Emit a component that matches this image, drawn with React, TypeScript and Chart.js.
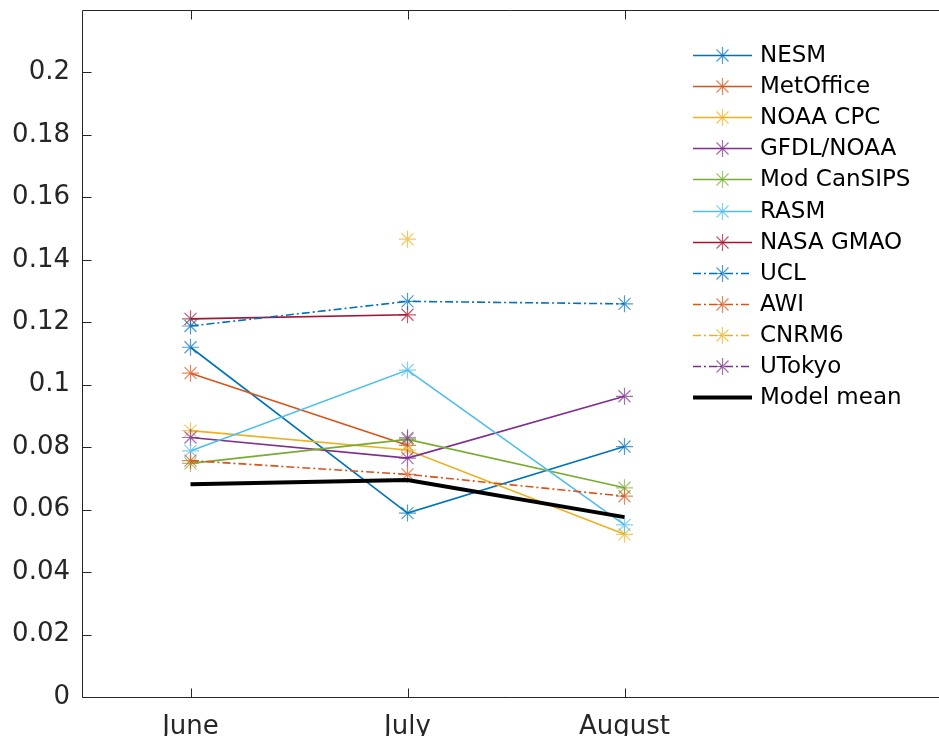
import React, { useEffect, useRef } from "react";
import { Chart, registerables } from "chart.js";

Chart.register(...registerables);

const MONTHS = ["June", "July", "August"];
const MONTH_POS = [1, 2, 3];
const Y_TICKS = [0, 0.02, 0.04, 0.06, 0.08, 0.1, 0.12, 0.14, 0.16, 0.18, 0.2];

const NESM = [0.112, 0.0589, 0.0802];
const METOFFICE = [0.1037, 0.0806, null];
const NOAA_CPC = [0.0853, 0.0791, 0.0521];
const GFDL_NOAA = [0.0831, 0.0765, 0.0963];
const MOD_CANSIPS = [0.0748, 0.0825, 0.067];
const RASM = [0.0788, 0.1047, 0.0551];
const NASA_GMAO = [0.1211, 0.1224, null];
const UCL = [0.1188, 0.1267, 0.1259];
const AWI = [0.0757, 0.0713, 0.0643];
const CNRM6 = [null, 0.1466, null];
const UTOKYO = [null, 0.083, null];
const MODEL_MEAN = [0.0681, 0.0695, 0.0576];

const SERIES = [
  { label: "NESM", values: NESM, color: "#0072BD", dash: false },
  { label: "MetOffice", values: METOFFICE, color: "#D95319", dash: false },
  { label: "NOAA CPC", values: NOAA_CPC, color: "#EDB120", dash: false },
  { label: "GFDL/NOAA", values: GFDL_NOAA, color: "#7E2F8E", dash: false },
  { label: "Mod CanSIPS", values: MOD_CANSIPS, color: "#77AC30", dash: false },
  { label: "RASM", values: RASM, color: "#4DBEEE", dash: false },
  { label: "NASA GMAO", values: NASA_GMAO, color: "#A2142F", dash: false },
  { label: "UCL", values: UCL, color: "#0072BD", dash: true },
  { label: "AWI", values: AWI, color: "#D95319", dash: true },
  { label: "CNRM6", values: CNRM6, color: "#EDB120", dash: true },
  { label: "UTokyo", values: UTOKYO, color: "#7E2F8E", dash: true },
];

const DASH_DOT = [8, 3, 2, 3];
const AXIS_COLOR = "#262626";
const FONT = "'DejaVu Sans', sans-serif";

function hexA(hex: string, a: number) {
  const r = parseInt(hex.slice(1, 3), 16);
  const g = parseInt(hex.slice(3, 5), 16);
  const b = parseInt(hex.slice(5, 7), 16);
  return `rgba(${r},${g},${b},${a})`;
}

function drawStar(ctx: CanvasRenderingContext2D, x: number, y: number, r: number) {
  ctx.beginPath();
  for (let k = 0; k < 4; k++) {
    const ang = (k * Math.PI) / 4;
    const dx = Math.cos(ang) * r;
    const dy = Math.sin(ang) * r;
    ctx.moveTo(x - dx, y - dy);
    ctx.lineTo(x + dx, y + dy);
  }
  ctx.stroke();
}

const matlabPlugin = {
  id: "matlabBox",
  afterDraw(chart: any) {
    const { ctx, chartArea: a, scales } = chart;
    const xs = scales.x;
    const ys = scales.y;
    ctx.save();
    ctx.strokeStyle = AXIS_COLOR;
    ctx.lineWidth = 1;
    const L = Math.round(a.left) + 0.5;
    const T = Math.round(a.top) + 0.5;
    const B = Math.round(a.bottom) + 0.5;
    const R = chart.width;
    ctx.beginPath();
    ctx.moveTo(L, T);
    ctx.lineTo(R, T);
    ctx.moveTo(L, B);
    ctx.lineTo(R, B);
    ctx.moveTo(L, T);
    ctx.lineTo(L, B);
    ctx.stroke();
    ctx.beginPath();
    Y_TICKS.forEach((v) => {
      const py = Math.round(ys.getPixelForValue(v)) + 0.5;
      ctx.moveTo(L, py);
      ctx.lineTo(L + 9, py);
    });
    MONTH_POS.forEach((v) => {
      const px = Math.round(xs.getPixelForValue(v)) + 0.5;
      ctx.moveTo(px, B);
      ctx.lineTo(px, B - 9);
      ctx.moveTo(px, T);
      ctx.lineTo(px, T + 9);
    });
    ctx.stroke();

    // legend
    const x0 = 693;
    const x1 = 752;
    const xm = 722.5;
    const xt = 760;
    const y0 = 55;
    const dy = 31.1;
    ctx.font = `23px ${FONT}`;
    ctx.textBaseline = "middle";
    ctx.textAlign = "left";
    chart.data.datasets.forEach((ds: any, i: number) => {
      const y = Math.round(y0 + dy * i) + 0.5;
      ctx.save();
      ctx.strokeStyle = ds.borderColor;
      ctx.lineWidth = ds.borderWidth;
      ctx.setLineDash(ds.borderDash || []);
      ctx.beginPath();
      ctx.moveTo(x0, y);
      ctx.lineTo(x1, y);
      ctx.stroke();
      ctx.setLineDash([]);
      if (ds.pointRadius > 0) {
        ctx.strokeStyle = ds.pointBorderColor;
        ctx.lineWidth = ds.pointBorderWidth;
        drawStar(ctx, xm, y, ds.pointRadius);
      }
      ctx.restore();
      ctx.fillStyle = "#000";
      ctx.fillText(ds.label, xt, y + 1);
    });
    ctx.restore();
  },
};

function toPoints(values: (number | null)[]) {
  const pts: { x: number; y: number }[] = [];
  values.forEach((v, i) => {
    if (v !== null) pts.push({ x: MONTH_POS[i], y: v });
  });
  return pts;
}

export default function App() {
  const ref = useRef<HTMLCanvasElement>(null);
  useEffect(() => {
    if (!ref.current) return;
    const n = SERIES.length + 1;
    const datasets: any[] = SERIES.map((s, i) => ({
      label: s.label,
      data: toPoints(s.values),
      borderColor: s.color,
      backgroundColor: s.color,
      borderWidth: 1.6,
      borderDash: s.dash ? DASH_DOT : [],
      pointStyle: "star",
      pointRadius: 8.5,
      pointBorderWidth: 1.2,
      pointBorderColor: hexA(s.color, 0.7),
      pointBackgroundColor: hexA(s.color, 0.7),
      pointHoverRadius: 8.5,
      order: n - i,
    }));
    datasets.push({
      label: "Model mean",
      data: toPoints(MODEL_MEAN),
      borderColor: "#000000",
      backgroundColor: "#000000",
      borderWidth: 4,
      borderDash: [],
      pointRadius: 0,
      pointHoverRadius: 0,
      pointBorderWidth: 0,
      pointBorderColor: "#000",
      order: 0,
    });
    const chart = new Chart(ref.current, {
      type: "line",
      data: { datasets },
      plugins: [matlabPlugin],
      options: {
        animation: false,
        responsive: false,
        devicePixelRatio: 1,
        layout: { autoPadding: false, padding: { left: 0, top: 10, right: 0, bottom: 0 } },
        plugins: { legend: { display: false }, tooltip: { enabled: false } },
        scales: {
          x: {
            type: "linear",
            min: 0.5,
            max: 0.5 + 857 / 217,
            grid: { display: false, drawTicks: false },
            border: { display: false },
            afterBuildTicks: (scale: any) => {
              scale.ticks = MONTH_POS.map((v) => ({ value: v }));
            },
            afterFit: (scale: any) => {
              scale.height = 39;
              scale.paddingLeft = 0;
              scale.paddingRight = 0;
              scale.paddingTop = 0;
              scale.paddingBottom = 0;
            },
            ticks: {
              padding: 15,
              color: AXIS_COLOR,
              font: { family: FONT, size: 26 },
              maxRotation: 0,
              autoSkip: false,
              callback: (v: any) => MONTHS[Math.round(Number(v)) - 1] ?? "",
            },
          },
          y: {
            type: "linear",
            min: 0,
            max: 0.22,
            grid: { display: false, drawTicks: false },
            border: { display: false },
            afterBuildTicks: (scale: any) => {
              scale.ticks = Y_TICKS.map((v) => ({ value: v }));
            },
            afterFit: (scale: any) => {
              scale.width = 82;
              scale.paddingLeft = 0;
              scale.paddingRight = 0;
              scale.paddingTop = 0;
              scale.paddingBottom = 0;
            },
            ticks: {
              padding: 12,
              color: AXIS_COLOR,
              font: { family: FONT, size: 26 },
              autoSkip: false,
              callback: (v: any) => String(Number(Number(v).toFixed(2))),
            },
          },
        },
      },
    });
    return () => chart.destroy();
  }, []);
  return (
    <div style={{ position: "absolute", left: 0, top: 0, width: 939, height: 736, overflow: "hidden", background: "#fff" }}>
      <canvas ref={ref} width={939} height={736} style={{ display: "block" }} />
    </div>
  );
}
